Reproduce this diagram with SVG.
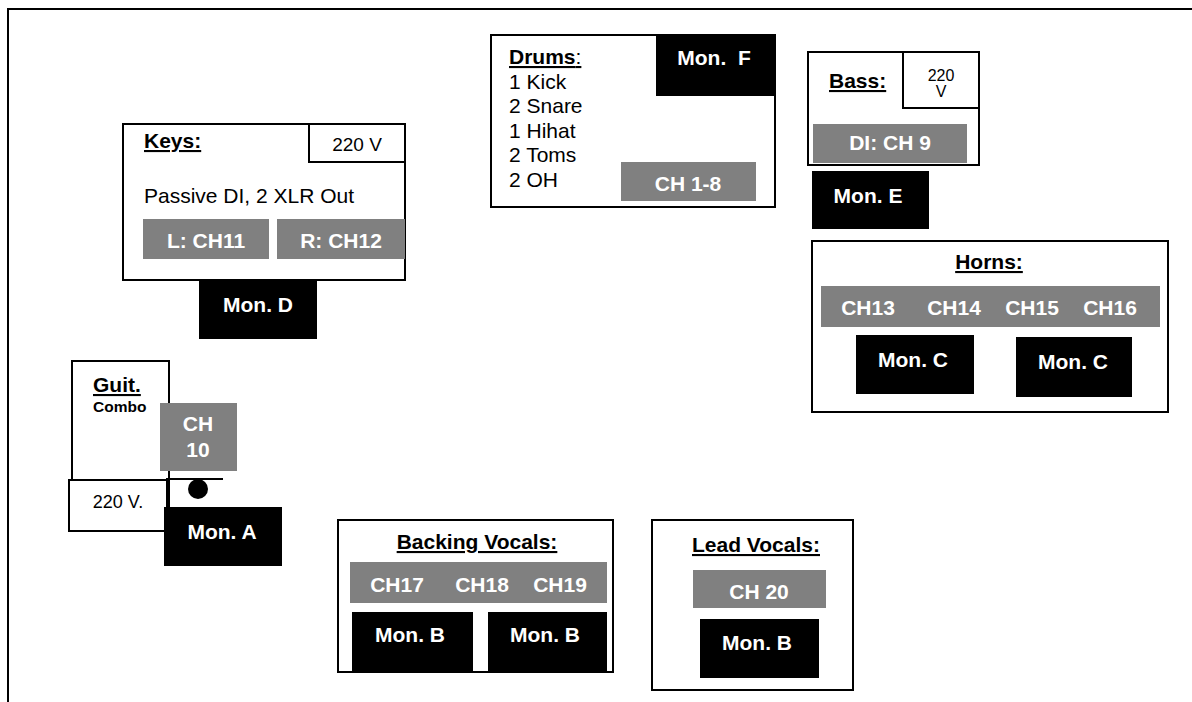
<svg xmlns="http://www.w3.org/2000/svg" width="1192" height="702" viewBox="0 0 1192 702">
<style>
text{font-family:"Liberation Sans",Arial,sans-serif;}
.box{fill:#fff;stroke:#000;stroke-width:2;}
.gray{fill:#808080;}
.mon{fill:#000;}
.w{fill:#fff;font-weight:bold;font-size:21px;}
.t{fill:#000;font-size:21px;}
.h{fill:#000;font-size:21px;font-weight:bold;text-decoration:underline;}
.mid{text-anchor:middle;}
</style>
<rect width="1192" height="702" fill="#fff"/>
<path d="M8 702 V9 H1192" fill="none" stroke="#000" stroke-width="2"/>
<g id="connectors"/>

<g id="keys">
<rect class="box" x="123" y="124" width="282" height="156"/>
<rect class="box" x="309" y="124" width="96" height="38"/>
<text class="t mid" x="357" y="151" style="font-size:19px">220 V</text>
<text class="h" x="144" y="148">Keys:</text>
<text class="t" x="144" y="203">Passive DI, 2 XLR Out</text>
<rect class="gray" x="143" y="219" width="126" height="40"/>
<rect class="gray" x="277" y="219" width="128" height="40"/>
<text class="w mid" x="206" y="248">L: CH11</text>
<text class="w mid" x="341" y="248">R: CH12</text>
</g>
<g id="mon-d">
<rect class="mon" x="199" y="280" width="118" height="59"/>
<text class="w mid" x="258" y="312">Mon. D</text>
</g>

<g id="drums">
<rect class="box" x="491" y="35" width="284" height="172"/>
<rect class="mon" x="656" y="34" width="120" height="62"/>
<text class="w mid" x="714" y="65" xml:space="preserve">Mon.  F</text>
<text class="t" x="509" y="64" style="text-decoration:underline"><tspan font-weight="bold">Drums</tspan>:</text>
<text class="t" x="509" y="89">1 Kick</text>
<text class="t" x="509" y="113">2 Snare</text>
<text class="t" x="509" y="138">1 Hihat</text>
<text class="t" x="509" y="162">2 Toms</text>
<text class="t" x="509" y="187">2 OH</text>
<rect class="gray" x="621" y="162" width="135" height="39"/>
<text class="w mid" x="688" y="191">CH 1-8</text>
</g>

<g id="bass">
<rect class="box" x="808" y="52" width="171" height="113"/>
<rect class="box" x="903" y="52" width="76" height="56"/>
<text class="t mid" x="941" y="81" style="font-size:16px">220</text>
<text class="t mid" x="941" y="97" style="font-size:16px">V</text>
<text class="h" x="829" y="88">Bass:</text>
<rect class="gray" x="813" y="124" width="154" height="39"/>
<text class="w mid" x="890" y="150">DI: CH 9</text>
</g>
<g id="mon-e">
<rect class="mon" x="812" y="171" width="117" height="58"/>
<text class="w mid" x="868" y="203">Mon. E</text>
</g>

<g id="horns">
<rect class="box" x="812" y="241" width="356" height="171"/>
<text class="h mid" x="989" y="269">Horns:</text>
<rect class="gray" x="821" y="286" width="339" height="41"/>
<text class="w mid" x="868" y="315">CH13</text>
<text class="w mid" x="954" y="315">CH14</text>
<text class="w mid" x="1032" y="315">CH15</text>
<text class="w mid" x="1110" y="315">CH16</text>
<rect class="mon" x="856" y="335" width="118" height="59"/>
<text class="w mid" x="913" y="367">Mon. C</text>
<rect class="mon" x="1016" y="337" width="116" height="60"/>
<text class="w mid" x="1073" y="369">Mon. C</text>
</g>

<g id="guitar">
<rect class="box" x="72" y="361" width="97" height="170"/>
<text class="h" x="93" y="392">Guit.</text>
<text x="93" y="412" style="font-size:15.5px;font-weight:bold">Combo</text>
<rect class="box" x="69" y="480" width="98" height="51"/>
<text class="t mid" x="118" y="508" style="font-size:18px">220 V.</text>
<rect class="gray" x="160" y="403" width="77" height="68"/>
<text class="w mid" x="198" y="431">CH</text>
<text class="w mid" x="198" y="457">10</text>
<line x1="166" y1="479" x2="223" y2="479" stroke="#000" stroke-width="2"/>
<circle cx="198" cy="489" r="10" fill="#000"/>
</g>
<g id="mon-a">
<rect class="mon" x="164" y="507" width="118" height="59"/>
<text class="w mid" x="222" y="539">Mon. A</text>
</g>

<g id="backing-vocals">
<rect class="box" x="338" y="520" width="275" height="152"/>
<text class="h mid" x="477" y="549">Backing Vocals:</text>
<rect class="gray" x="350" y="562" width="257" height="41"/>
<text class="w mid" x="397" y="592">CH17</text>
<text class="w mid" x="482" y="592">CH18</text>
<text class="w mid" x="560" y="592">CH19</text>
<rect class="mon" x="352" y="612" width="121" height="59"/>
<text class="w mid" x="410" y="642">Mon. B</text>
<rect class="mon" x="488" y="612" width="119" height="59"/>
<text class="w mid" x="545" y="642">Mon. B</text>
</g>

<g id="lead-vocals">
<rect class="box" x="652" y="520" width="201" height="170"/>
<text class="h mid" x="756" y="552">Lead Vocals:</text>
<rect class="gray" x="693" y="570" width="133" height="38"/>
<text class="w mid" x="759" y="599">CH 20</text>
<rect class="mon" x="700" y="619" width="119" height="59"/>
<text class="w mid" x="757" y="650">Mon. B</text>
</g>
</svg>
